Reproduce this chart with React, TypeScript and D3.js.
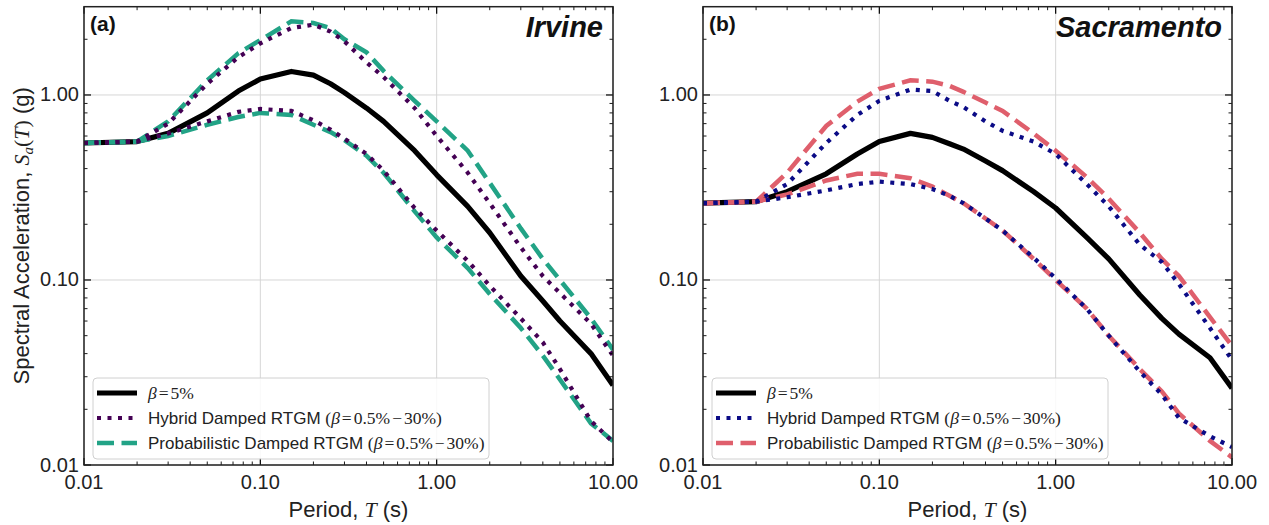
import React from 'react';
import * as d3 from 'd3';

// periods (s) at which the spectra are given
const PERIODS = [0.01, 0.02, 0.03, 0.05, 0.075, 0.1, 0.15, 0.2, 0.25, 0.3, 0.4, 0.5, 0.75, 1, 1.5, 2, 3, 4, 5, 7.5, 10];

// Irvine, Sa (g)
const IRVINE_BETA5 = [0.55, 0.56, 0.62, 0.8, 1.05, 1.22, 1.34, 1.28, 1.15, 1.03, 0.85, 0.72, 0.5, 0.37, 0.25, 0.18, 0.105, 0.077, 0.06, 0.04, 0.027];
const IRVINE_HYBRID_UPPER = [0.55, 0.56, 0.7, 1.15, 1.6, 1.9, 2.3, 2.4, 2.2, 1.95, 1.5, 1.25, 0.85, 0.6, 0.38, 0.26, 0.15, 0.105, 0.085, 0.058, 0.039];
const IRVINE_HYBRID_LOWER = [0.55, 0.56, 0.62, 0.72, 0.81, 0.84, 0.82, 0.73, 0.65, 0.58, 0.48, 0.39, 0.245, 0.185, 0.127, 0.093, 0.062, 0.046, 0.033, 0.0173, 0.0133];
const IRVINE_PROB_UPPER = [0.55, 0.56, 0.72, 1.2, 1.68, 1.98, 2.5, 2.45, 2.3, 2.0, 1.7, 1.35, 0.93, 0.72, 0.5, 0.335, 0.19, 0.13, 0.1, 0.062, 0.042];
const IRVINE_PROB_LOWER = [0.55, 0.56, 0.6, 0.69, 0.76, 0.8, 0.78, 0.69, 0.63, 0.57, 0.47, 0.38, 0.235, 0.17, 0.116, 0.084, 0.055, 0.039, 0.029, 0.0168, 0.0135];

// Sacramento, Sa (g)
const SAC_BETA5 = [0.26, 0.265, 0.3, 0.375, 0.48, 0.56, 0.62, 0.59, 0.545, 0.51, 0.44, 0.39, 0.3, 0.245, 0.17, 0.13, 0.083, 0.062, 0.051, 0.038, 0.026];
const SAC_HYBRID_UPPER = [0.26, 0.265, 0.33, 0.55, 0.78, 0.93, 1.07, 1.05, 0.93, 0.86, 0.72, 0.64, 0.56, 0.48, 0.33, 0.25, 0.155, 0.125, 0.095, 0.055, 0.037];
const SAC_HYBRID_LOWER = [0.26, 0.265, 0.28, 0.305, 0.33, 0.34, 0.33, 0.31, 0.285, 0.26, 0.215, 0.185, 0.132, 0.102, 0.07, 0.05, 0.032, 0.024, 0.018, 0.0143, 0.0125];
const SAC_PROB_UPPER = [0.26, 0.265, 0.38, 0.68, 0.92, 1.08, 1.2, 1.18, 1.12, 1.04, 0.91, 0.82, 0.62, 0.5, 0.36, 0.275, 0.18, 0.13, 0.105, 0.063, 0.044];
const SAC_PROB_LOWER = [0.26, 0.265, 0.29, 0.345, 0.375, 0.375, 0.355, 0.32, 0.285, 0.26, 0.215, 0.185, 0.13, 0.1, 0.07, 0.05, 0.033, 0.025, 0.019, 0.0135, 0.011];

const X_TICKS = [0.01, 0.1, 1, 10];
const Y_TICKS = [0.01, 0.1, 1];

const SANS = 'Liberation Sans, Arial, sans-serif';
const SERIF = 'Liberation Serif, Times New Roman, serif';

const W = 1269;
const H = 525;
const PLOT_W = 529;
const TOP = 6.7;
const BOTTOM = 465;

function minorTicks(lo, hi) {
  const out = [];
  for (let d = -3; d <= 2; d++) {
    const dec = Math.pow(10, d);
    for (let k = 2; k <= 9; k++) {
      const v = k * dec;
      if (v > lo * 1.0001 && v < hi * 0.9999) out.push(v);
    }
  }
  return out;
}

function RangeText({ label, y, x }) {
  // "<label> (β = 0.5% − 30%)", math part set tight like mathtext
  return (
    <text x={x} y={y} fontSize={17} fill="#222" fontFamily={SANS}>
      {label + ' '}
      <tspan fontFamily={SERIF} fontSize={17.5}>(</tspan>
      <tspan fontFamily={SERIF} fontSize={17.5} fontStyle="italic">β</tspan>
      <tspan fontFamily={SERIF} fontSize={17.5} dx={2}>=</tspan>
      <tspan fontFamily={SERIF} fontSize={17.5} dx={2}>0.5%</tspan>
      <tspan fontFamily={SERIF} fontSize={17.5} dx={2}>−</tspan>
      <tspan fontFamily={SERIF} fontSize={17.5} dx={2}>30%)</tspan>
    </text>
  );
}

function Panel({ left, tag, city, beta5, hybrid, prob, hybridColor, probColor, clipId }) {
  const x = d3.scaleLog().domain([0.01, 10]).range([left, left + PLOT_W]);
  const y = d3.scaleLog().domain([0.01, 3]).range([BOTTOM, TOP]);
  const line = d3.line().x((d, i) => x(PERIODS[i])).y((d) => y(d));
  const fmt = d3.format('.2f');
  const xMinor = minorTicks(0.01, 10);
  const yMinor = minorTicks(0.01, 3);
  const right = left + PLOT_W;
  const lx = left + 9;
  const ly = 378;

  const dotted = { strokeDasharray: '4 6.5', strokeWidth: 4.2 };
  const dashed = { strokeDasharray: '17 7.5', strokeWidth: 4.5 };

  return (
    <g>
      <defs>
        <clipPath id={clipId}>
          <rect x={left} y={TOP} width={PLOT_W} height={BOTTOM - TOP} />
        </clipPath>
      </defs>
      {/* grid */}
      {X_TICKS.map((t) => (
        <line key={'gx' + t} x1={x(t)} x2={x(t)} y1={TOP} y2={BOTTOM} stroke="#d6d6d6" strokeWidth={1} />
      ))}
      {Y_TICKS.map((t) => (
        <line key={'gy' + t} x1={left} x2={right} y1={y(t)} y2={y(t)} stroke="#d6d6d6" strokeWidth={1} />
      ))}

      {/* curves */}
      <g clipPath={`url(#${clipId})`} fill="none">
        <path d={line(beta5)} stroke="#000" strokeWidth={5.2} strokeLinejoin="round" />
        {prob.map((s, i) => (
          <path key={'p' + i} d={line(s)} stroke={probColor} {...dashed} />
        ))}
        {hybrid.map((s, i) => (
          <path key={'h' + i} d={line(s)} stroke={hybridColor} {...dotted} />
        ))}
      </g>

      {/* ticks, inward on all sides */}
      {X_TICKS.map((t) => (
        <g key={'tx' + t}>
          <line x1={x(t)} x2={x(t)} y1={BOTTOM} y2={BOTTOM - 7} stroke="#000" strokeWidth={1.2} />
          <line x1={x(t)} x2={x(t)} y1={TOP} y2={TOP + 7} stroke="#000" strokeWidth={1.2} />
        </g>
      ))}
      {xMinor.map((t) => (
        <g key={'mx' + t}>
          <line x1={x(t)} x2={x(t)} y1={BOTTOM} y2={BOTTOM - 3.5} stroke="#000" strokeWidth={0.9} />
          <line x1={x(t)} x2={x(t)} y1={TOP} y2={TOP + 3.5} stroke="#000" strokeWidth={0.9} />
        </g>
      ))}
      {Y_TICKS.map((t) => (
        <g key={'ty' + t}>
          <line x1={left} x2={left + 7} y1={y(t)} y2={y(t)} stroke="#000" strokeWidth={1.2} />
          <line x1={right} x2={right - 7} y1={y(t)} y2={y(t)} stroke="#000" strokeWidth={1.2} />
        </g>
      ))}
      {yMinor.map((t) => (
        <g key={'my' + t}>
          <line x1={left} x2={left + 3.5} y1={y(t)} y2={y(t)} stroke="#000" strokeWidth={0.9} />
          <line x1={right} x2={right - 3.5} y1={y(t)} y2={y(t)} stroke="#000" strokeWidth={0.9} />
        </g>
      ))}

      {/* frame */}
      <rect x={left} y={TOP} width={PLOT_W} height={BOTTOM - TOP} fill="none" stroke="#222" strokeWidth={1.5} />

      {/* tick labels */}
      {X_TICKS.map((t) => (
        <text key={'lx' + t} x={x(t)} y={489} textAnchor="middle" fontSize={20} fontFamily={SANS} fill="#222">
          {fmt(t)}
        </text>
      ))}
      {Y_TICKS.map((t) => (
        <text key={'ly' + t} x={left - 5} y={y(t) + 6.5} textAnchor="end" fontSize={20} fontFamily={SANS} fill="#222">
          {fmt(t)}
        </text>
      ))}

      {/* x label */}
      <text x={left + PLOT_W / 2} y={517} textAnchor="middle" fontSize={22} fontFamily={SANS} fill="#222">
        {'Period, '}
        <tspan fontFamily={SERIF} fontStyle="italic">T</tspan>
        {' (s)'}
      </text>

      {/* panel tag and city */}
      <text x={left + 6} y={31} fontSize={21} fontWeight="bold" fontFamily={SANS} fill="#111">{tag}</text>
      <text x={right - 10} y={37} textAnchor="end" fontSize={29} fontWeight="bold" fontStyle="italic" fontFamily={SANS} fill="#111">
        {city}
      </text>

      {/* legend */}
      <rect x={lx} y={ly} width={396} height={81} rx={4} fill="#fff" fillOpacity={0.85} stroke="#d0d0d0" strokeWidth={1} />
      <line x1={lx + 4} x2={lx + 44} y1={ly + 15} y2={ly + 15} stroke="#000" strokeWidth={5.2} />
      <line x1={lx + 4} x2={lx + 44} y1={ly + 40} y2={ly + 40} stroke={hybridColor} {...dotted} />
      <line x1={lx + 4} x2={lx + 44} y1={ly + 65} y2={ly + 65} stroke={probColor} {...dashed} />
      <text x={lx + 55} y={ly + 21} fontSize={17.5} fontFamily={SERIF} fill="#222">
        <tspan fontStyle="italic">β</tspan>
        <tspan dx={2}>=</tspan>
        <tspan dx={2}>5%</tspan>
      </text>
      <RangeText label="Hybrid Damped RTGM" x={lx + 55} y={ly + 46} />
      <RangeText label="Probabilistic Damped RTGM" x={lx + 55} y={ly + 71} />
    </g>
  );
}

export default function App() {
  const midY = (TOP + BOTTOM) / 2;
  return (
    <div style={{ position: 'absolute', left: 0, top: 0 }}>
      <svg width={W} height={H} style={{ display: 'block', background: '#fff' }}>
        <Panel
          left={84}
          tag="(a)"
          city="Irvine"
          beta5={IRVINE_BETA5}
          hybrid={[IRVINE_HYBRID_UPPER, IRVINE_HYBRID_LOWER]}
          prob={[IRVINE_PROB_UPPER, IRVINE_PROB_LOWER]}
          hybridColor="#440154"
          probColor="#22a386"
          clipId="clipA"
        />
        <Panel
          left={703}
          tag="(b)"
          city="Sacramento"
          beta5={SAC_BETA5}
          hybrid={[SAC_HYBRID_UPPER, SAC_HYBRID_LOWER]}
          prob={[SAC_PROB_UPPER, SAC_PROB_LOWER]}
          hybridColor="#0b0b86"
          probColor="#df5f6c"
          clipId="clipB"
        />
        <text
          transform={`translate(29,${midY}) rotate(-90)`}
          textAnchor="middle"
          fontSize={22}
          fontFamily={SANS}
          fill="#222"
        >
          {'Spectral Acceleration, '}
          <tspan fontFamily={SERIF} fontStyle="italic">S</tspan>
          <tspan fontFamily={SERIF} fontStyle="italic" fontSize={15} dy={4}>a</tspan>
          <tspan fontFamily={SERIF} dy={-4}>(</tspan>
          <tspan fontFamily={SERIF} fontStyle="italic">T</tspan>
          <tspan fontFamily={SERIF}>)</tspan>
          {' (g)'}
        </text>
      </svg>
    </div>
  );
}
